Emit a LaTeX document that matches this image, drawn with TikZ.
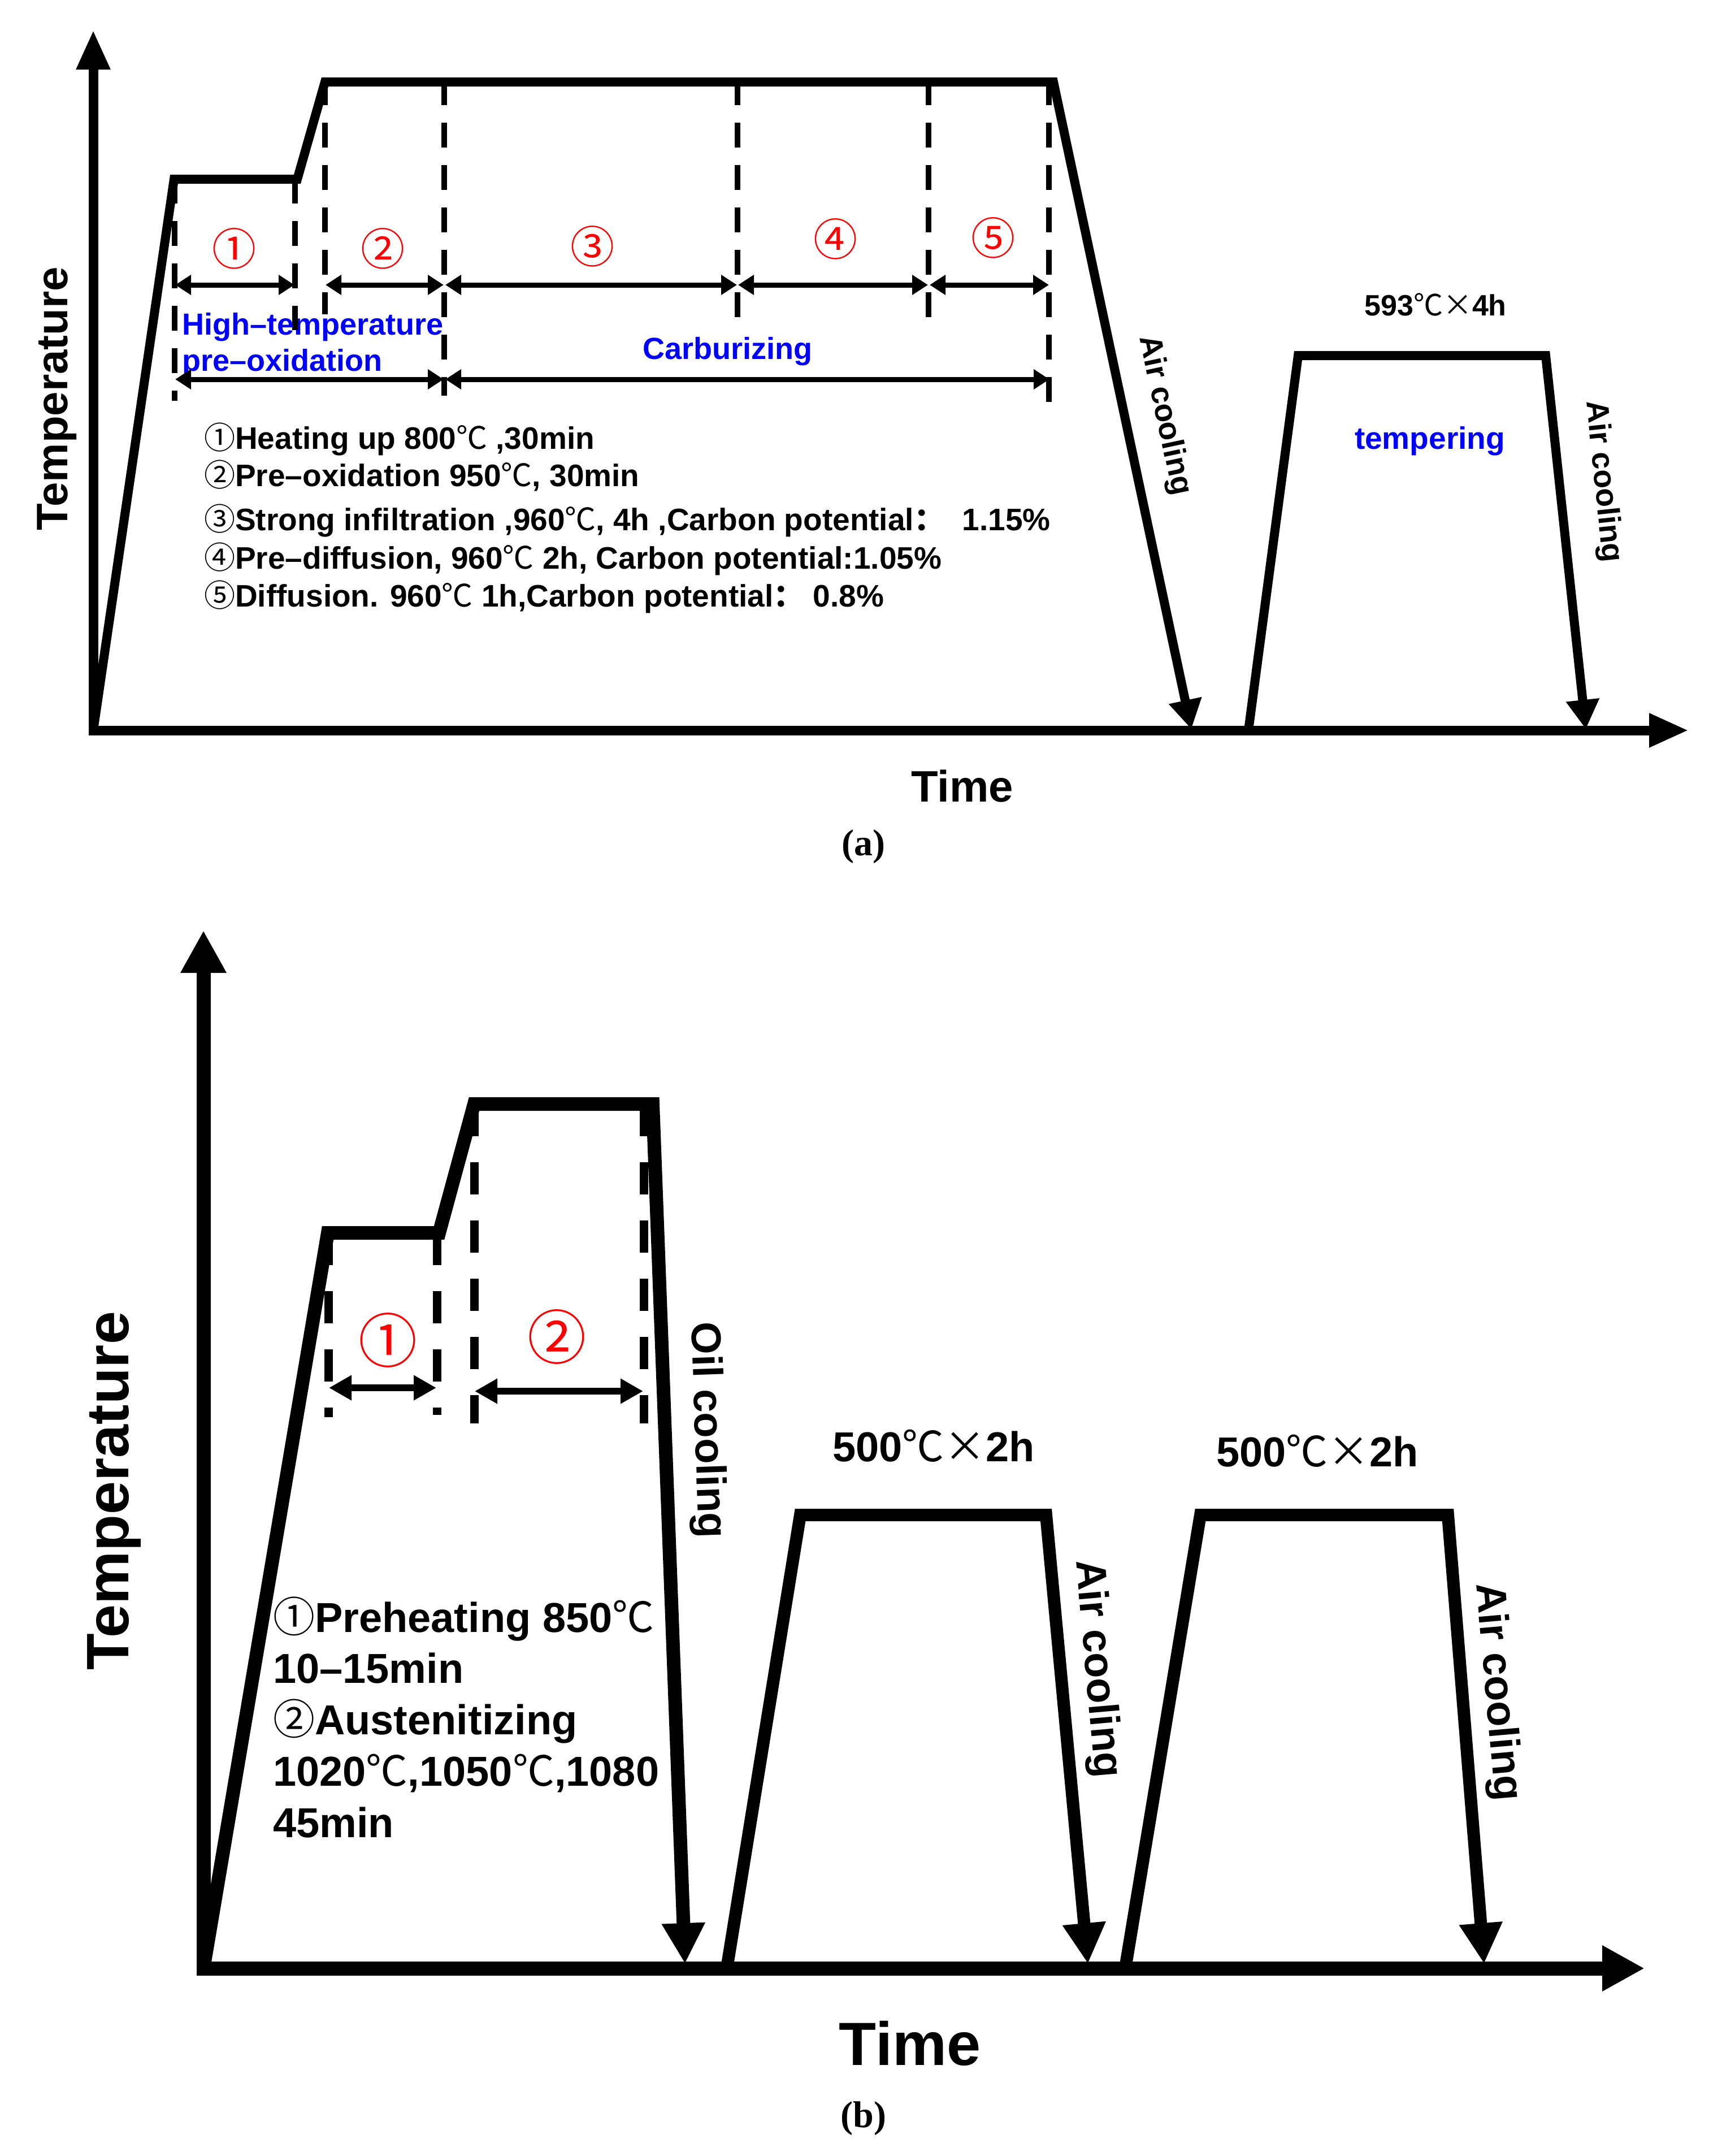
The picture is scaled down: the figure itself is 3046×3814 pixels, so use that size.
\documentclass[tikz,border=0pt]{standalone}
\usepackage{fontspec}
\setmainfont{Liberation Sans}
\newfontfamily\cjkfont{Noto Sans CJK SC}
\newfontfamily\capfont{Liberation Serif}
\usetikzlibrary{arrows.meta}
\newcommand\degc{{\cjkfont\mdseries ℃}}
\newcommand\tmsx{{\cjkfont\mdseries ×}}
\newcommand\circn[1]{{\cjkfont\mdseries #1}}
\newcommand\fullcolon{{\cjkfont ：}}
\definecolor{pblue}{RGB}{0,0,255}
\definecolor{pred}{RGB}{255,0,0}
\tikzset{
  txt/.style={inner sep=0pt, font=\bfseries},
  axisA/.style={line width=17pt, -{Triangle[length=70pt,width=56pt]}},
  axisB/.style={line width=25pt, -{Triangle[length=75pt,width=76pt]}},
  profA/.style={line width=16pt, line join=miter},
  profB/.style={line width=24pt, line join=miter},
  tempB/.style={line width=22pt, line join=miter},
  coolA/.style={-{Triangle[length=52pt,width=56pt]}},
  coolB/.style={-{Triangle[length=72pt,width=72pt]}},
  dashA/.style={line width=10pt, dash pattern=on 44pt off 31pt},
  dashB/.style={line width=15pt, dash pattern=on 57pt off 46pt},
  dimA/.style={line width=9pt, {Triangle[length=28pt,width=34pt]}-{Triangle[length=28pt,width=34pt]}},
  dimB/.style={line width=12pt, {Triangle[length=40pt,width=42pt]}-{Triangle[length=40pt,width=42pt]}},
  redn/.style={inner sep=0pt, text=pred},
  bluet/.style={txt, text=pblue},
}
\begin{document}
\begin{tikzpicture}[x=1pt,y=-1pt]
\useasboundingbox[fill=white] (0,0) rectangle (3046,3814);

% ================= panel (a) =================
\node[txt, anchor=base west, font=\bfseries\fontsize{55}{60}\selectfont] (la1) at (361,794) {\circn{①}Heating up 800\degc\ ,30min};
\node[txt, anchor=base west, font=\bfseries\fontsize{55}{60}\selectfont] (la2) at (361,860) {\circn{②}Pre–oxidation 950\degc, 30min};
\node[txt, anchor=base west, font=\bfseries\fontsize{55}{60}\selectfont] (la3) at (361,938) {\circn{③}Strong infiltration ,960\degc, 4h ,Carbon potential\fullcolon\ \ 1.15\%};
\node[txt, anchor=base west, font=\bfseries\fontsize{55}{60}\selectfont] (la4) at (361,1006) {\circn{④}Pre–diffusion, 960\degc\ 2h, Carbon potential:1.05\%};
\node[txt, anchor=base west, font=\bfseries\fontsize{55}{60}\selectfont] (la5) at (361,1073) {\circn{⑤}Diffusion. 960\degc\ 1h,Carbon potential\fullcolon\ 0.8\%};

\node[bluet, anchor=base west, font=\bfseries\fontsize{54}{60}\selectfont] (hta) at (322,592) {High–temperature};
\node[bluet, anchor=base west, font=\bfseries\fontsize{54}{60}\selectfont] (pox) at (322,656) {pre–oxidation};
\node[bluet, anchor=base, font=\bfseries\fontsize{54}{60}\selectfont] (carb) at (1287,635) {Carburizing};
\node[bluet, anchor=base, font=\bfseries\fontsize{55}{60}\selectfont] (tempA) at (2530,794) {tempering};
\node[txt, anchor=base, font=\bfseries\fontsize{52}{60}\selectfont] (tA) at (2540,558) {593\degc\tmsx4h};

\node[redn, font=\fontsize{78}{80}\selectfont] (ra1) at (414,440) {\circn{①}};
\node[redn, font=\fontsize{78}{80}\selectfont] (ra2) at (677,440) {\circn{②}};
\node[redn, font=\fontsize{78}{80}\selectfont] (ra3) at (1048,436) {\circn{③}};
\node[redn, font=\fontsize{78}{80}\selectfont] (ra4) at (1478,423) {\circn{④}};
\node[redn, font=\fontsize{78}{80}\selectfont] (ra5) at (1757,421) {\circn{⑤}};

\node[txt, rotate=-78, font=\bfseries\fontsize{55}{60}\selectfont] (acA1) at (2060,735) {Air cooling};
\node[txt, rotate=-84, font=\bfseries\fontsize{55}{60}\selectfont] (acA2) at (2836,852) {Air cooling};

\node[txt, rotate=90, font=\bfseries\fontsize{78}{80}\selectfont] (TempA) at (101,705) {Temperature};
\node[txt, anchor=base, font=\bfseries\fontsize{78}{80}\selectfont] (TimeA) at (1703,1418) {Time};
\node[txt, anchor=base, font=\capfont\bfseries\fontsize{66}{70}\selectfont] (capA) at (1528,1513) {(a)};

\coordinate (Ao) at (165,1292);
\coordinate (Ay) at (165,53);
\coordinate (Ax) at (2988,1292);
\coordinate (A1) at (308,317);
\coordinate (A2) at (526,317);
\coordinate (A3) at (575,145);
\coordinate (A4) at (1864,145);
\coordinate (A5) at (2108,1290);
\coordinate (T1) at (2209,1292);
\coordinate (T2) at (2297,629);
\coordinate (T3) at (2735,629);
\coordinate (T4) at (2806,1290);

\draw[dashA] (309,316) -- (309,709);
\draw[dashA] (522,316) -- (522,584);
\draw[dashA] (575,142) -- (575,556);
\draw[dashA] (786,142) -- (786,700);
\draw[dashA] (1305,142) -- (1305,561);
\draw[dashA] (1643,142) -- (1643,561);
\draw[dashA] (1856,142) -- (1856,712);

\draw[dimA] (310,504) -- (521,504);
\draw[dimA] (576,504) -- (785,504);
\draw[dimA] (788,504) -- (1304,504);
\draw[dimA] (1306,504) -- (1642,504);
\draw[dimA] (1645,504) -- (1856,504);
\draw[dimA] (310,671) -- (785,671);
\draw[dimA] (788,671) -- (1857,671);

\draw[axisA] (165,1300) -- (Ay);
\draw[axisA] (157,1292) -- (Ax);
\draw[profA, coolA] (Ao) -- (A1) -- (A2) -- (A3) -- (A4) -- (A5);
\draw[profA, coolA] (T1) -- (T2) -- (T3) -- (T4);

% ================= panel (b) =================
\node[txt, anchor=base west, font=\bfseries\fontsize{74}{80}\selectfont] (lb1) at (483,2887) {\circn{①}Preheating 850\degc};
\node[txt, anchor=base west, font=\bfseries\fontsize{74}{80}\selectfont] (lb2) at (483,2977) {10–15min};
\node[txt, anchor=base west, font=\bfseries\fontsize{74}{80}\selectfont] (lb3) at (483,3068) {\circn{②}Austenitizing};
\node[txt, anchor=base west, font=\bfseries\fontsize{74}{80}\selectfont] (lb4) at (483,3159) {1020\degc,1050\degc,1080};
\node[txt, anchor=base west, font=\bfseries\fontsize{74}{80}\selectfont] (lb5) at (483,3250) {45min};

\node[txt, anchor=base, font=\bfseries\fontsize{74}{80}\selectfont] (tB1) at (1652,2585) {500\degc\tmsx2h};
\node[txt, anchor=base, font=\bfseries\fontsize{74}{80}\selectfont] (tB2) at (2331,2594) {500\degc\tmsx2h};

\node[redn, font=\fontsize{104}{110}\selectfont] (rb1) at (686,2371) {\circn{①}};
\node[redn, font=\fontsize{104}{110}\selectfont] (rb2) at (985,2365) {\circn{②}};

\node[txt, rotate=-88, font=\bfseries\fontsize{74}{80}\selectfont] (ocB) at (1249,2530) {Oil cooling};
\node[txt, rotate=-85, font=\bfseries\fontsize{74}{80}\selectfont] (acB1) at (1940,2952) {Air cooling};
\node[txt, rotate=-85, font=\bfseries\fontsize{74}{80}\selectfont] (acB2) at (2648,2993) {Air cooling};

\node[txt, rotate=90, font=\bfseries\fontsize{106}{110}\selectfont] (TempB) at (202,2637) {Temperature};
\node[txt, anchor=base, font=\bfseries\fontsize{108}{110}\selectfont] (TimeB) at (1610,3653) {Time};
\node[txt, anchor=base, font=\capfont\bfseries\fontsize{66}{70}\selectfont] (capB) at (1528,3763) {(b)};

\coordinate (Bo) at (360,3482);
\coordinate (By) at (360,1646);
\coordinate (Bx) at (2910,3482);
\coordinate (B1) at (580,2181);
\coordinate (B2) at (777,2181);
\coordinate (B3) at (839,1953);
\coordinate (B4) at (1155,1953);
\coordinate (B5) at (1212,3474);
\coordinate (U1) at (1286,3482);
\coordinate (U2) at (1416,2680);
\coordinate (U3) at (1851,2680);
\coordinate (U4) at (1925,3474);
\coordinate (V1) at (1991,3482);
\coordinate (V2) at (2124,2680);
\coordinate (V3) at (2562,2680);
\coordinate (V4) at (2626,3474);

\draw[dashB] (581,2181) -- (581,2507);
\draw[dashB] (773,2181) -- (773,2503);
\draw[dashB] (839,1953) -- (839,2518);
\draw[dashB] (1139,1953) -- (1139,2518);

\draw[dimB] (582,2455) -- (772,2455);
\draw[dimB] (840,2461) -- (1138,2461);

\draw[axisB] (360,3494) -- (By);
\draw[axisB] (348,3482) -- (Bx);
\draw[profB, coolB] (Bo) -- (B1) -- (B2) -- (B3) -- (B4) -- (B5);
\draw[tempB, coolB] (U1) -- (U2) -- (U3) -- (U4);
\draw[tempB, coolB] (V1) -- (V2) -- (V3) -- (V4);
\end{tikzpicture}
\end{document}
